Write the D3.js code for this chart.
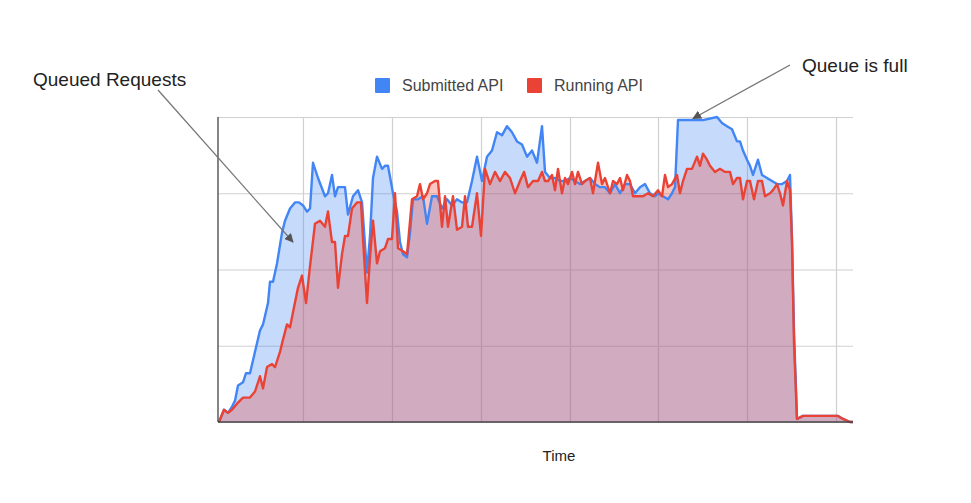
<!DOCTYPE html>
<html>
<head>
<meta charset="utf-8">
<script src="https://cdn.jsdelivr.net/npm/d3@7"></script>
<style>
  body { margin: 0; background: #fff; }
  text { font-family: "Liberation Sans", Arial, sans-serif; }
</style>
</head>
<body>
<div id="chart"></div>
<script>
// time in seconds, values as % of queue capacity
var seriesNames = ["Submitted API", "Running API"];
var seriesColors = ["#4285f4", "#ea4335"];

var submittedTime = [2,12,20,28,34,40,50,56,64,74,84,90,100,104,110,118,128,134,144,154,162,170,178,184,190,200,214,220,228,234,240,254,260,270,280,288,298,304,310,318,328,334,340,350,358,364,370,378,384,390,400,410,418,428,438,448,458,468,478,488,498,508,518,528,538,548,558,568,578,588,598,608,618,628,638,648,654,664,674,684,694,704,714,724,734,744,754,764,774,784,794,804,814,824,834,844,854,864,874,880,890,900,908,914,920,930,944,970,998,1008,1018,1028,1038,1044,1050,1058,1064,1070,1080,1088,1098,1108,1118,1128,1138,1144,1148,1152,1158,1170,1184,1198,1210,1218,1230,1240,1250,1264,1270];
var submittedValue = [0,4,3,5,7,12,13,16,16,23,30,32,39,46,46,52,62,66,70,72,72,71,69,70,85,80,74,75,81,74,77,77,68,74,76,72,49,61,80,87,83,84,84,75,69,59,55,54,62,73,73,74,65,74,74,70,73,71,73,72,72,79,87,79,87,89,95,94,97,95,92,91,87,89,85,97,82,80,80,79,79,80,79,78,79,80,78,77,77,75,78,75,78,78,75,77,78,75,74,75,74,73,75,77,99,99,99,99,100,98,97,96,92,92,89,86,84,81,86,81,80,79,78,78,79,81,60,30,1,2,2,2,2,2,2,2,1,0,0];

var runningTime = [2,12,20,28,38,50,64,74,84,90,98,108,114,124,130,138,144,150,160,168,176,184,194,204,214,220,228,234,240,248,254,260,268,278,286,290,298,304,310,318,324,334,340,348,354,360,370,378,388,398,404,410,418,424,434,440,448,454,460,470,478,488,494,500,508,518,526,534,544,554,564,574,584,594,604,612,620,630,640,648,654,660,668,674,680,688,694,700,708,714,720,728,734,744,750,760,768,774,784,790,798,804,810,818,824,830,840,850,860,870,880,888,894,900,908,918,924,930,938,948,958,964,970,978,984,994,1004,1014,1024,1030,1038,1044,1050,1058,1064,1072,1080,1088,1094,1104,1110,1118,1124,1130,1138,1144,1148,1152,1158,1170,1184,1198,1210,1218,1230,1240,1250,1264,1270];
var runningValue = [0,4,3,4,6,8,8,10,15,11,18,19,18,23,27,32,31,36,44,48,39,51,65,66,64,69,59,59,44,55,61,61,70,72,72,60,39,54,66,52,56,57,60,60,75,57,56,55,73,74,78,73,75,78,79,79,64,74,64,74,63,64,74,64,64,75,61,83,78,82,79,82,80,75,79,82,77,79,79,82,79,79,81,76,83,75,80,78,82,78,82,78,79,80,75,85,78,80,75,79,78,80,76,81,79,74,74,74,75,74,76,74,81,77,78,81,75,79,83,83,87,84,88,86,84,82,83,82,82,78,80,80,73,79,79,73,79,79,74,75,76,78,75,71,79,76,59,26,1,2,2,2,2,2,2,2,1,0,0];

var yTicks = [0, 25, 50, 75, 100];
var timeGrid = [170, 348, 526, 704, 880, 1058, 1236];

var W = 971, H = 503;
var margin = { top: 117, right: 118, bottom: 81, left: 218 };
var width = W - margin.left - margin.right,
    height = H - margin.top - margin.bottom;

var svg = d3.select("#chart").append("svg")
  .attr("width", W)
  .attr("height", H);

var defs = svg.append("defs");
defs.append("marker")
  .attr("id", "arrow")
  .attr("viewBox", "0 0 10 10")
  .attr("refX", 9).attr("refY", 5)
  .attr("markerWidth", 9).attr("markerHeight", 9)
  .attr("markerUnits", "userSpaceOnUse")
  .attr("orient", "auto")
  .append("path")
  .attr("d", "M0,0L10,5L0,10z")
  .attr("fill", "#555");

var g = svg.append("g")
  .attr("transform", "translate(" + margin.left + "," + margin.top + ")");

var x = d3.scaleLinear().domain([0, 1270]).range([0, width]);
var y = d3.scaleLinear().domain([0, 100]).range([height, 0]);

// gridlines
g.append("g")
  .attr("class", "grid")
  .call(d3.axisLeft(y).tickValues(yTicks).tickSize(-width).tickFormat(""))
  .call(function (s) { s.select(".domain").remove(); })
  .selectAll("line").attr("stroke", "#d0d0d0").attr("stroke-width", 1.2);
g.append("g")
  .attr("class", "grid")
  .attr("transform", "translate(0," + height + ")")
  .call(d3.axisBottom(x).tickValues(timeGrid).tickSize(-height).tickFormat(""))
  .call(function (s) { s.select(".domain").remove(); })
  .selectAll("line").attr("stroke", "#d0d0d0").attr("stroke-width", 1.2);

var submitted = submittedTime.map(function (t, i) { return { t: t, v: submittedValue[i] }; });
var running = runningTime.map(function (t, i) { return { t: t, v: runningValue[i] }; });

var area = d3.area()
  .x(function (d) { return x(d.t); })
  .y0(height)
  .y1(function (d) { return y(d.v); });
var line = d3.line()
  .x(function (d) { return x(d.t); })
  .y(function (d) { return y(d.v); });

[submitted, running].forEach(function (data, i) {
  g.append("path")
    .datum(data)
    .attr("d", area)
    .attr("fill", seriesColors[i])
    .attr("fill-opacity", 0.3);
});
[submitted, running].forEach(function (data, i) {
  g.append("path")
    .datum(data)
    .attr("d", line)
    .attr("fill", "none")
    .attr("stroke", seriesColors[i])
    .attr("stroke-width", 2.4)
    .attr("stroke-linejoin", "round");
});

// axis lines
g.append("line")
  .attr("x1", 0).attr("x2", 0)
  .attr("y1", 0).attr("y2", height)
  .attr("stroke", "#444").attr("stroke-width", 1.3);
g.append("line")
  .attr("x1", 0).attr("x2", width)
  .attr("y1", height).attr("y2", height)
  .attr("stroke", "#444").attr("stroke-width", 1.3);

// legend
var legend = svg.append("g").attr("transform", "translate(375,78)");
var lx = [0, 152];
seriesNames.forEach(function (name, i) {
  var item = legend.append("g").attr("transform", "translate(" + lx[i] + ",0)");
  item.append("rect")
    .attr("width", 15).attr("height", 15)
    .attr("rx", 1)
    .attr("fill", seriesColors[i]);
  item.append("text")
    .attr("x", 27).attr("y", 13)
    .style("font-size", "16px")
    .attr("fill", "#444")
    .text(name);
});

// x axis title
svg.append("text")
  .attr("x", 559).attr("y", 461)
  .attr("text-anchor", "middle")
  .style("font-size", "15px")
  .attr("fill", "#222")
  .text("Time");

// annotations
svg.append("text")
  .attr("x", 33).attr("y", 86)
  .style("font-size", "19px")
  .attr("fill", "#222")
  .text("Queued Requests");
svg.append("line")
  .attr("x1", 158).attr("y1", 90)
  .attr("x2", margin.left + x(150)).attr("y2", margin.top + y(59))
  .attr("stroke", "#777").attr("stroke-width", 1.3)
  .attr("marker-end", "url(#arrow)");

svg.append("text")
  .attr("x", 802).attr("y", 72)
  .style("font-size", "19px")
  .attr("fill", "#222")
  .text("Queue is full");
svg.append("line")
  .attr("x1", 790).attr("y1", 65)
  .attr("x2", margin.left + x(950)).attr("y2", margin.top + y(99.5))
  .attr("stroke", "#777").attr("stroke-width", 1.3)
  .attr("marker-end", "url(#arrow)");
</script>
</body>
</html>
